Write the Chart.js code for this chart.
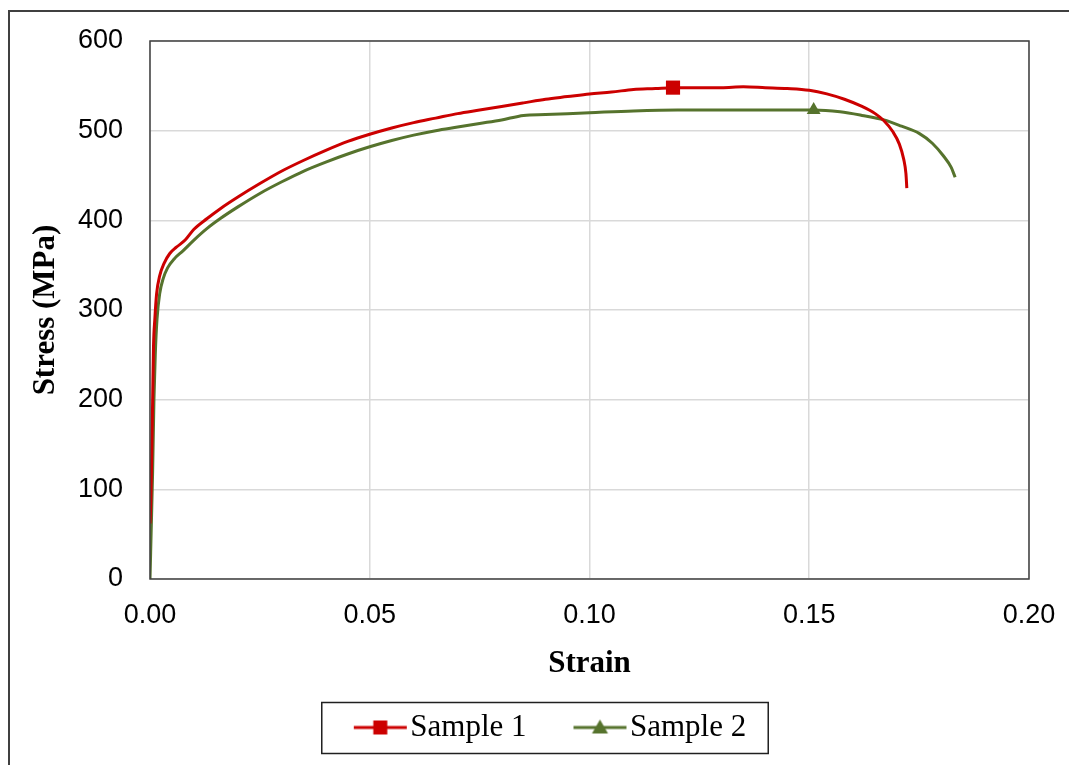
<!DOCTYPE html>
<html>
<head>
<meta charset="utf-8">
<script src="https://cdn.jsdelivr.net/npm/chart.js@4.4.0/dist/chart.umd.min.js"></script>
<style>
  html, body { margin: 0; padding: 0; background: #fff; }
  #wrap { width: 1069px; height: 765px; }
</style>
</head>
<body>
<div id="wrap"><canvas id="grafico"></canvas></div>
<script>
// dados
const strain1 = [0, 0.0002, 0.0004, 0.0006, 0.0008, 0.0011, 0.0015, 0.0022, 0.0032, 0.0045, 0.006, 0.008,
  0.010, 0.013, 0.016, 0.020, 0.025, 0.030, 0.035, 0.040, 0.045, 0.050, 0.055, 0.060, 0.065, 0.070,
  0.075, 0.080, 0.085, 0.090, 0.095, 0.100, 0.105, 0.110, 0.115, 0.119, 0.125, 0.130, 0.135, 0.140,
  0.145, 0.150, 0.154, 0.158, 0.162, 0.165, 0.167, 0.169, 0.1705, 0.1715, 0.172, 0.1722];
const stress1 = [62, 90, 140, 200, 260, 290, 318, 338, 352, 363, 370, 378,
  390, 402, 413, 426, 441, 455, 467, 478, 488, 496, 503, 509, 514, 519,
  523, 527, 531, 535, 538, 541, 543, 546, 547, 548, 548, 548, 549, 548,
  547, 545, 541, 535, 527, 519, 511, 499, 485, 468, 452, 436];

const strain2 = [0, 0.0003, 0.0006, 0.0009, 0.0012, 0.0016, 0.0022, 0.003, 0.004, 0.0055, 0.0075,
  0.010, 0.013, 0.016, 0.020, 0.025, 0.030, 0.035, 0.040, 0.045, 0.050, 0.055, 0.060, 0.065, 0.070,
  0.075, 0.080, 0.085, 0.090, 0.095, 0.100, 0.110, 0.120, 0.130, 0.140, 0.151, 0.157, 0.162, 0.167,
  0.171, 0.175, 0.178, 0.1805, 0.1823, 0.1832];
const stress2 = [0, 60, 120, 200, 250, 290, 318, 335, 347, 357, 366,
  378, 391, 402, 415, 430, 443, 455, 465, 474, 482, 489, 495, 500, 504,
  508, 512, 517, 518, 519, 520, 522, 523, 523, 523, 523, 521, 517, 512,
  505, 497, 486, 472, 459, 448];

const seriesNames = ['Sample 1', 'Sample 2'];
const markerIndex = [35, 35];
const xTicks = [0, 0.05, 0.10, 0.15, 0.20];
const yTicks = [0, 100, 200, 300, 400, 500, 600];

const RED = '#cc0000';
const GREEN = '#56732d';
const SERIF = "'Liberation Serif', 'Times New Roman', serif";
const SANS = "'Liberation Sans', Arial, sans-serif";

function pontos(xs, ys) {
  return xs.map((x, i) => ({ x: x, y: ys[i] }));
}

// imagem da legenda: linha + marcador (parte esquerda transparente)
function legendaImg(cor, forma) {
  const c = document.createElement('canvas');
  c.width = 104; c.height = 20;
  const g = c.getContext('2d');
  const x0 = 50, x1 = 103, cx = (x0 + x1) / 2, cy = 10;
  g.strokeStyle = cor; g.lineWidth = 3;
  g.beginPath(); g.moveTo(x0, cy); g.lineTo(x1, cy); g.stroke();
  g.fillStyle = cor;
  if (forma === 'rect') {
    g.fillRect(cx - 7, cy - 7, 14, 14);
  } else {
    g.beginPath();
    g.moveTo(cx, cy - 8); g.lineTo(cx + 8, cy + 6); g.lineTo(cx - 8, cy + 6);
    g.closePath(); g.fill();
  }
  return c;
}
const imgs = [legendaImg(RED, 'rect'), legendaImg(GREEN, 'triangle')];

const moldura = {
  id: 'moldura',
  afterLayout(chart) {
    // desloca a legenda um pouco para a direita
    chart.legend.left += 13;
    chart.legend.right += 13;
  },
  afterDraw(chart) {
    const ctx = chart.ctx;
    const a = chart.chartArea;
    ctx.save();
    // borda externa
    ctx.strokeStyle = '#404040';
    ctx.lineWidth = 2;
    ctx.strokeRect(9, 11, 1100, 800);
    // borda da área do gráfico
    ctx.lineWidth = 1.5;
    ctx.strokeRect(a.left, a.top, a.right - a.left, a.bottom - a.top);
    // caixa da legenda
    const hb = chart.legend.legendHitBoxes;
    if (hb && hb.length) {
      const l = hb[0].left + 5;
      const last = hb[hb.length - 1];
      const r = last.left + last.width + 22;
      const cy = hb[0].top + hb[0].height / 2;
      ctx.lineWidth = 1.5;
      ctx.strokeStyle = '#202020';
      ctx.strokeRect(l, cy - 25, r - l, 51);
    }
    ctx.restore();
  }
};

const ctx = document.getElementById('grafico').getContext('2d');
new Chart(ctx, {
  type: 'line',
  data: {
    datasets: [
      {
        label: seriesNames[0],
        data: pontos(strain1, stress1),
        borderColor: RED,
        backgroundColor: RED,
        borderWidth: 3,
        pointStyle: 'rect',
        pointRadius: c => c.dataIndex === markerIndex[0] ? 10 : 0,
        pointBorderWidth: 0,
        cubicInterpolationMode: 'monotone'
      },
      {
        label: seriesNames[1],
        data: pontos(strain2, stress2),
        borderColor: GREEN,
        backgroundColor: GREEN,
        borderWidth: 3,
        pointStyle: 'triangle',
        pointRadius: c => c.dataIndex === markerIndex[1] ? 8 : 0,
        pointBorderWidth: 0,
        cubicInterpolationMode: 'monotone'
      }
    ]
  },
  options: {
    responsive: true,
    maintainAspectRatio: false,
    animation: false,
    layout: { padding: { left: 8, top: 41, right: 40, bottom: 12 } },
    plugins: {
      tooltip: { enabled: false },
      legend: {
        position: 'bottom',
        labels: {
          usePointStyle: true,
          pointStyleWidth: 78,
          padding: 10,
          color: '#000',
          font: { family: SERIF, size: 31 },
          generateLabels(chart) {
            const itens = Chart.defaults.plugins.legend.labels.generateLabels(chart);
            itens.forEach((it, i) => { it.pointStyle = imgs[i]; });
            return itens;
          }
        }
      }
    },
    scales: {
      x: {
        type: 'linear',
        min: 0,
        max: 0.2,
        afterFit(s) { s.height = 123; s.paddingLeft = 0; s.paddingRight = 0; },
        afterBuildTicks(s) { s.ticks = xTicks.map(v => ({ value: v })); },
        grid: { color: '#d9d9d9', lineWidth: 1.5, drawTicks: false },
        border: { display: false },
        ticks: {
          padding: 20,
          color: '#000',
          font: { family: SANS, size: 27 },
          callback: v => v.toFixed(2)
        },
        title: {
          display: true,
          text: 'Strain',
          color: '#000',
          padding: { top: 0, bottom: 19 },
          font: { family: SERIF, size: 31, weight: 'bold' }
        }
      },
      y: {
        min: 0,
        max: 600,
        afterFit(s) { s.width = 142; s.paddingTop = 0; s.paddingBottom = 0; },
        afterBuildTicks(s) { s.ticks = yTicks.map(v => ({ value: v })); },
        grid: { color: '#d9d9d9', lineWidth: 1.5, drawTicks: false },
        border: { display: false },
        ticks: {
          padding: 27,
          color: '#000',
          font: { family: SANS, size: 27 }
        },
        title: {
          display: true,
          text: 'Stress (MPa)',
          color: '#000',
          padding: { top: 19, bottom: 0 },
          font: { family: SERIF, size: 31, weight: 'bold' }
        }
      }
    }
  },
  plugins: [moldura]
});
</script>
</body>
</html>
